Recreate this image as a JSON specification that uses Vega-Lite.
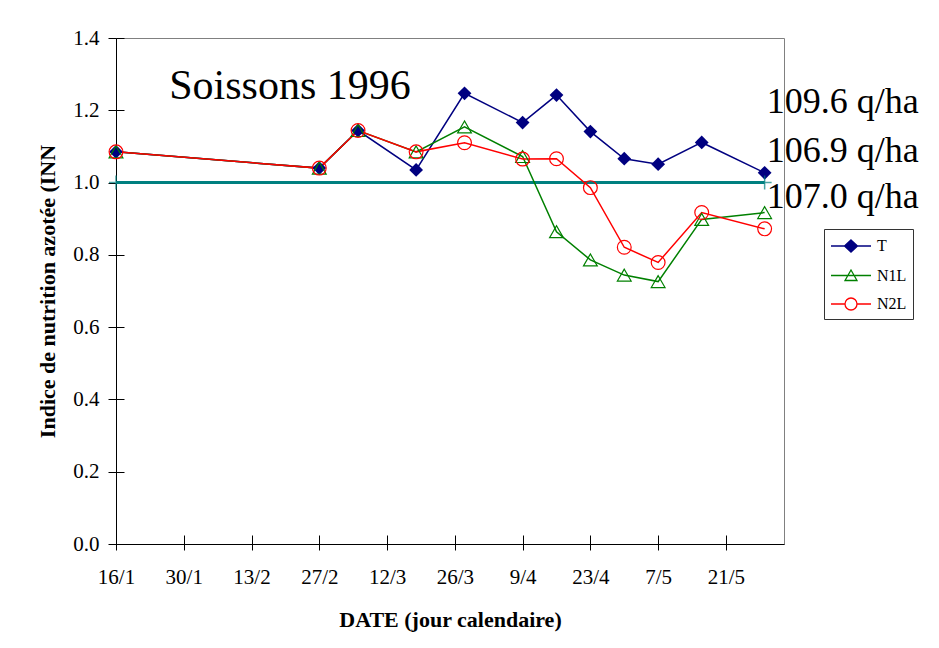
{
  "$schema": "https://vega.github.io/schema/vega-lite/v6.json",
  "autosize": {"type": "none"},
  "width": 668,
  "height": 506,
  "padding": {"left": 116, "top": 38, "right": 155, "bottom": 104},
  "background": "white",
  "config": {"view": {"stroke": "#808080", "strokeWidth": 1}, "font": "Liberation Serif, Times New Roman, serif"},
  "datasets": {
    "inn": [
      {"date": "1996-01-16", "series": "T", "inn": 1.085},
      {"date": "1996-02-27", "series": "T", "inn": 1.04},
      {"date": "1996-03-06", "series": "T", "inn": 1.144},
      {"date": "1996-03-18", "series": "T", "inn": 1.035},
      {"date": "1996-03-28", "series": "T", "inn": 1.247},
      {"date": "1996-04-09", "series": "T", "inn": 1.166},
      {"date": "1996-04-16", "series": "T", "inn": 1.242},
      {"date": "1996-04-23", "series": "T", "inn": 1.141},
      {"date": "1996-04-30", "series": "T", "inn": 1.066},
      {"date": "1996-05-07", "series": "T", "inn": 1.051},
      {"date": "1996-05-16", "series": "T", "inn": 1.111},
      {"date": "1996-05-29", "series": "T", "inn": 1.027},
      {"date": "1996-01-16", "series": "N1L", "inn": 1.085},
      {"date": "1996-02-27", "series": "N1L", "inn": 1.04},
      {"date": "1996-03-06", "series": "N1L", "inn": 1.144},
      {"date": "1996-03-18", "series": "N1L", "inn": 1.085},
      {"date": "1996-03-28", "series": "N1L", "inn": 1.154},
      {"date": "1996-04-09", "series": "N1L", "inn": 1.072},
      {"date": "1996-04-16", "series": "N1L", "inn": 0.864},
      {"date": "1996-04-23", "series": "N1L", "inn": 0.786},
      {"date": "1996-04-30", "series": "N1L", "inn": 0.744},
      {"date": "1996-05-07", "series": "N1L", "inn": 0.726},
      {"date": "1996-05-16", "series": "N1L", "inn": 0.898},
      {"date": "1996-05-29", "series": "N1L", "inn": 0.917},
      {"date": "1996-01-16", "series": "N2L", "inn": 1.085},
      {"date": "1996-02-27", "series": "N2L", "inn": 1.04},
      {"date": "1996-03-06", "series": "N2L", "inn": 1.144},
      {"date": "1996-03-18", "series": "N2L", "inn": 1.085},
      {"date": "1996-03-28", "series": "N2L", "inn": 1.11},
      {"date": "1996-04-09", "series": "N2L", "inn": 1.065},
      {"date": "1996-04-16", "series": "N2L", "inn": 1.066},
      {"date": "1996-04-23", "series": "N2L", "inn": 0.986},
      {"date": "1996-04-30", "series": "N2L", "inn": 0.821},
      {"date": "1996-05-07", "series": "N2L", "inn": 0.779},
      {"date": "1996-05-16", "series": "N2L", "inn": 0.917},
      {"date": "1996-05-29", "series": "N2L", "inn": 0.872}
    ],
    "ref": [
      {"date": "1996-01-16", "inn": 1.0},
      {"date": "1996-05-29", "inn": 1.0}
    ]
  },
  "resolve": {"axis": {"x": "independent", "y": "independent"}},
  "layer": [
    {
      "data": {"name": "ref"},
      "mark": {"type": "line", "color": "#008080", "strokeWidth": 3},
      "encoding": {
        "x": {
          "field": "date", "type": "temporal",
          "scale": {"type": "utc", "domain": [{"year": 1996, "month": 1, "date": 16, "utc": true}, {"year": 1996, "month": 6, "date": 2, "utc": true}]},
          "axis": {
            "title": "DATE (jour calendaire)",
            "values": [
              {"year": 1996, "month": 1, "date": 16, "utc": true},
              {"year": 1996, "month": 1, "date": 30, "utc": true},
              {"year": 1996, "month": 2, "date": 13, "utc": true},
              {"year": 1996, "month": 2, "date": 27, "utc": true},
              {"year": 1996, "month": 3, "date": 12, "utc": true},
              {"year": 1996, "month": 3, "date": 26, "utc": true},
              {"year": 1996, "month": 4, "date": 9, "utc": true},
              {"year": 1996, "month": 4, "date": 23, "utc": true},
              {"year": 1996, "month": 5, "date": 7, "utc": true},
              {"year": 1996, "month": 5, "date": 21, "utc": true}
            ],
            "format": "%-d/%-m",
            "grid": false,
            "labelFont": "Liberation Serif, Times New Roman, serif", "labelFontSize": 21, "labelColor": "black",
            "labelFlush": false, "labelOverlap": false, "labelPadding": 16,
            "tickColor": "black", "tickSize": 6, "tickWidth": 1,
            "domainColor": "black", "domainWidth": 1,
            "titleFont": "Liberation Serif, Times New Roman, serif", "titleFontSize": 22, "titleFontWeight": "bold", "titleColor": "black", "titlePadding": 22
          }
        },
        "y": {
          "field": "inn", "type": "quantitative",
          "scale": {"domain": [0, 1.4], "nice": false, "zero": true},
          "axis": {
            "title": "Indice de nutrition azotée (INN",
            "values": [0, 0.2, 0.4, 0.6, 0.8, 1.0, 1.2, 1.4],
            "format": ".1f",
            "grid": false,
            "labelFont": "Liberation Serif, Times New Roman, serif", "labelFontSize": 21, "labelColor": "black", "labelPadding": 9,
            "labelFlush": false, "labelOverlap": false,
            "tickColor": "black", "tickSize": 8, "tickWidth": 1,
            "domainColor": "black", "domainWidth": 1,
            "titleFont": "Liberation Serif, Times New Roman, serif", "titleFontSize": 22, "titleFontWeight": "bold", "titleColor": "black", "titlePadding": 13
          }
        }
      }
    },
    {
      "data": {"name": "inn"},
      "mark": {"type": "line", "strokeWidth": 1.5},
      "encoding": {
        "x": {
          "field": "date", "type": "temporal",
          "axis": {
            "orient": "bottom", "title": null, "labels": false, "domain": false, "grid": false,
            "values": [
              {"year": 1996, "month": 1, "date": 16, "utc": true},
              {"year": 1996, "month": 1, "date": 30, "utc": true},
              {"year": 1996, "month": 2, "date": 13, "utc": true},
              {"year": 1996, "month": 2, "date": 27, "utc": true},
              {"year": 1996, "month": 3, "date": 12, "utc": true},
              {"year": 1996, "month": 3, "date": 26, "utc": true},
              {"year": 1996, "month": 4, "date": 9, "utc": true},
              {"year": 1996, "month": 4, "date": 23, "utc": true},
              {"year": 1996, "month": 5, "date": 7, "utc": true},
              {"year": 1996, "month": 5, "date": 21, "utc": true}
            ],
            "tickColor": "black", "tickSize": -9, "tickWidth": 1
          }
        },
        "y": {
          "field": "inn", "type": "quantitative",
          "axis": {
            "orient": "left", "title": null, "labels": false, "domain": false, "grid": false,
            "values": [0, 0.2, 0.4, 0.6, 0.8, 1.0, 1.2, 1.4],
            "tickColor": "black", "tickSize": -8, "tickWidth": 1
          }
        },
        "stroke": {
          "field": "series", "type": "nominal",
          "scale": {"domain": ["T", "N1L", "N2L"], "range": ["#000080", "#008000", "#ff0000"]},
          "legend": {
            "title": null, "orient": "none", "legendX": 708, "legendY": 191, "direction": "vertical",
            "strokeColor": "#333333", "fillColor": "white", "padding": 6,
            "labelFont": "Liberation Serif, Times New Roman, serif", "labelFontSize": 16, "labelColor": "black",
            "symbolType": "stroke", "symbolSize": 400, "symbolStrokeWidth": 1.3, "symbolOffset": 10, "labelOffset": 15, "rowPadding": 9.5,
            "encode": {
              "symbols": {
                "update": {
                  "shape": {"signal": "datum.value === 'T' ? 'M-2,0H2M0,-0.6L0.65,0L0,0.6L-0.65,0Z' : datum.value === 'N1L' ? 'M-2,0H2M0,-0.55L0.6,0.5L-0.6,0.5Z' : 'M-2,0H-0.6M0.6,0H2M-0.6,0A0.6,0.6 0 1,0 0.6,0A0.6,0.6 0 1,0 -0.6,0Z'"},
                  "fill": {"signal": "datum.value === 'T' ? '#000080' : 'transparent'"}
                }
              }
            }
          }
        }
      }
    },
    {
      "data": {"name": "inn"},
      "transform": [{"filter": "datum.series === 'T'"}],
      "mark": {"type": "point", "shape": "diamond", "size": 190, "strokeWidth": 1.2, "filled": true, "color": "#000080", "opacity": 1},
      "encoding": {
        "x": {"field": "date", "type": "temporal", "axis": null},
        "y": {"field": "inn", "type": "quantitative", "axis": null}
      }
    },
    {
      "data": {"name": "inn"},
      "transform": [{"filter": "datum.series === 'N1L'"}],
      "mark": {"type": "point", "shape": "triangle-up", "size": 190, "strokeWidth": 1.2, "filled": false, "color": "#008000", "opacity": 1},
      "encoding": {
        "x": {"field": "date", "type": "temporal", "axis": null},
        "y": {"field": "inn", "type": "quantitative", "axis": null}
      }
    },
    {
      "data": {"name": "inn"},
      "transform": [{"filter": "datum.series === 'N2L'"}],
      "mark": {"type": "point", "shape": "circle", "size": 190, "strokeWidth": 1.2, "filled": false, "color": "#ff0000", "opacity": 1},
      "encoding": {
        "x": {"field": "date", "type": "temporal", "axis": null},
        "y": {"field": "inn", "type": "quantitative", "axis": null}
      }
    },
    {
      "data": {"name": "ref"},
      "mark": {"type": "point", "shape": "M-1,0H1M0,-1V1", "size": 196, "color": "#008080", "strokeWidth": 1.5, "filled": false},
      "encoding": {
        "x": {"field": "date", "type": "temporal", "axis": null},
        "y": {"field": "inn", "type": "quantitative", "axis": null}
      }
    },
    {
      "data": {"values": [{}]},
      "mark": {"type": "text", "text": "Soissons 1996", "font": "Liberation Serif, Times New Roman, serif", "fontSize": 42, "align": "left", "baseline": "alphabetic", "color": "black"},
      "encoding": {
        "x": {"datum": {"year": 1996, "month": 1, "date": 27, "utc": true}, "type": "temporal", "axis": null},
        "y": {"datum": 1.2313, "type": "quantitative", "axis": null}
      }
    },
    {
      "data": {"values": [{}]},
      "mark": {"type": "text", "text": "109.6 q/ha", "font": "Liberation Serif, Times New Roman, serif", "fontSize": 36, "align": "left", "baseline": "alphabetic", "color": "black", "dx": 2},
      "encoding": {
        "x": {"datum": {"year": 1996, "month": 5, "date": 29, "utc": true}, "type": "temporal", "axis": null},
        "y": {"datum": 1.1926, "type": "quantitative", "axis": null}
      }
    },
    {
      "data": {"values": [{}]},
      "mark": {"type": "text", "text": "106.9 q/ha", "font": "Liberation Serif, Times New Roman, serif", "fontSize": 36, "align": "left", "baseline": "alphabetic", "color": "black", "dx": 2},
      "encoding": {
        "x": {"datum": {"year": 1996, "month": 5, "date": 29, "utc": true}, "type": "temporal", "axis": null},
        "y": {"datum": 1.0578, "type": "quantitative", "axis": null}
      }
    },
    {
      "data": {"values": [{}]},
      "mark": {"type": "text", "text": "107.0 q/ha", "font": "Liberation Serif, Times New Roman, serif", "fontSize": 36, "align": "left", "baseline": "alphabetic", "color": "black", "dx": 2},
      "encoding": {
        "x": {"datum": {"year": 1996, "month": 5, "date": 29, "utc": true}, "type": "temporal", "axis": null},
        "y": {"datum": 0.9297, "type": "quantitative", "axis": null}
      }
    }
  ]
}
